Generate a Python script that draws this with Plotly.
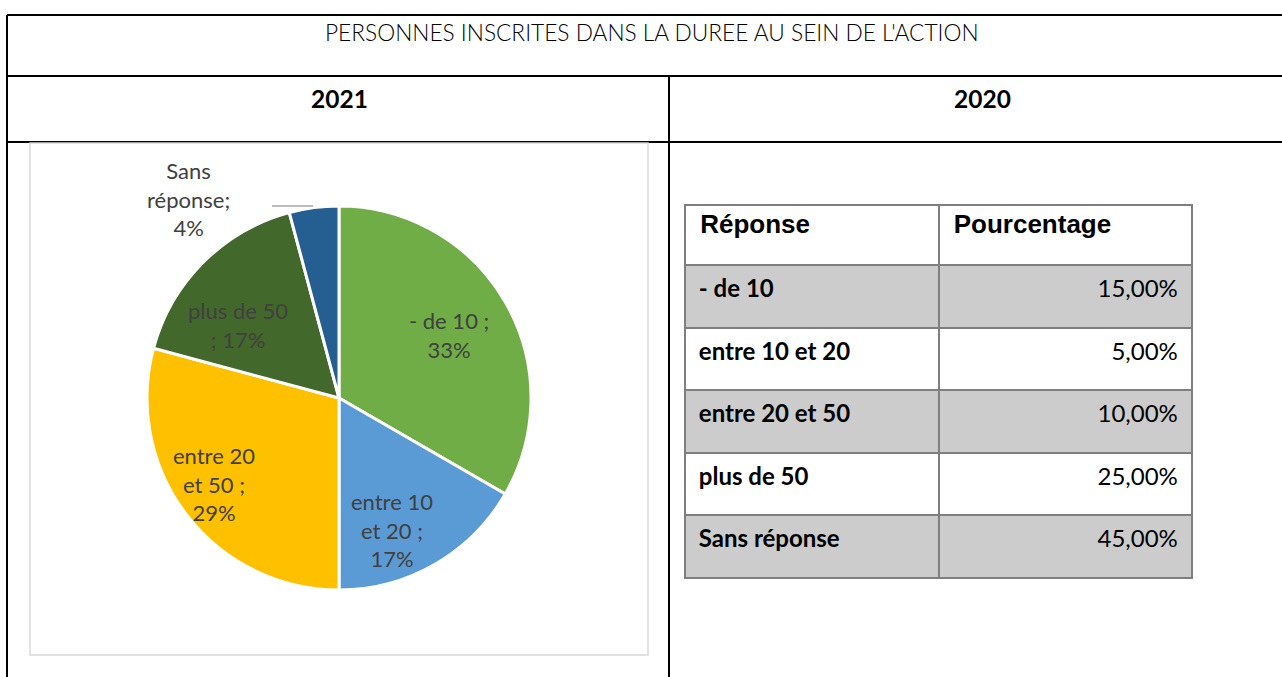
import math
import plotly.graph_objects as go

# ---------------- data ----------------
title_text = "PERSONNES INSCRITES DANS LA DUREE AU SEIN DE L'ACTION"
years = ["2021", "2020"]

# 2021 pie (counts: 33%, 17%, 29%, 17%, 4%)
pie_labels = ["- de 10", "entre 10 et 20", "entre 20 et 50", "plus de 50", "Sans réponse"]
pie_values = [8, 4, 7, 4, 1]
pie_wrapped = ["- de 10 ;<br>", "entre 10<br>et 20 ;<br>", "entre 20<br>et 50 ;<br>",
               "plus de 50<br>; ", "Sans<br>réponse;<br>"]
pie_colors = ["#70AD47", "#5B9BD5", "#FFC000", "#43682B", "#255E91"]

# 2020 table
table_header = ["Réponse", "Pourcentage"]
table_responses = ["- de 10", "entre 10 et 20", "entre 20 et 50", "plus de 50", "Sans réponse"]
table_percent = [15.00, 5.00, 10.00, 25.00, 45.00]

# ---------------- style ----------------
W, H = 1282, 677
CAL = "Lato"
ARIAL = "Liberation Sans"
PIE_CX, PIE_CY, PIE_R = 339, 398, 192          # pie placement in page pixels
label_rfrac = [0.66, 0.74, 0.79, 0.65, 1.30]   # label distance from centre (fraction of radius)
label_nudge = [0, 8, 3, -9, -29.5]             # label angle nudge (degrees)

fig = go.Figure()

# pie chart (2021)
fig.add_trace(go.Pie(
    labels=pie_labels, values=pie_values,
    textinfo="none",
    sort=False, direction="clockwise", rotation=0,
    marker=dict(colors=pie_colors, line=dict(color="white", width=3)),
    domain=dict(x=[(PIE_CX - PIE_R) / W, (PIE_CX + PIE_R) / W],
                y=[(H - PIE_CY - PIE_R) / H, (H - PIE_CY + PIE_R) / H]),
    showlegend=False, hoverinfo="label+percent",
))

# data labels, placed at each slice's mid-angle (Excel-like "best fit")
total = sum(pie_values)
annotations = []
cum = 0
for i, v in enumerate(pie_values):
    mid = (cum + v / 2) / total * 360 + label_nudge[i]
    cum += v
    rr = label_rfrac[i] * PIE_R
    lx = PIE_CX + rr * math.sin(math.radians(mid))
    ly = PIE_CY - rr * math.cos(math.radians(mid))
    pct = round(v / total * 100)
    annotations.append(dict(x=lx, y=ly, text=f"{pie_wrapped[i]}{pct}%", showarrow=False,
                            font=dict(family=CAL, size=22, color="#404040")))

# table (2020)
def fmt(v):
    return "<span>" + f"{v:.2f}".replace(".", ",") + "%\u00a0</span>"

row_fill = ["#CCCCCC" if i % 2 == 0 else "white" for i in range(len(table_responses))]
fig.add_trace(go.Table(
    domain=dict(x=[685 / W, 1193 / W], y=[0, (H - 205) / H]),
    columnwidth=[1, 1],
    header=dict(values=[f"\u00a0{h}" for h in table_header], align="left", height=60,
                fill_color="white", line=dict(color="#7F7F7F", width=2),
                font=dict(family=ARIAL, size=26, color="black", weight="bold")),
    cells=dict(values=[[f"<b>\u00a0{r}</b>" for r in table_responses],
                       [fmt(v) for v in table_percent]],
               align=["left", "right"], height=62.6,
               fill_color=[row_fill, row_fill], line=dict(color="#7F7F7F", width=2),
               font=dict(family=CAL, size=24, color="black")),
))

shapes = [
    # document table borders
    dict(type="line", x0=7, x1=W, y0=15, y1=15),
    dict(type="line", x0=7, x1=7, y0=15, y1=H),
    dict(type="line", x0=7, x1=W, y0=76, y1=76),
    dict(type="line", x0=7, x1=W, y0=142, y1=142),
    dict(type="line", x0=669, x1=669, y0=76, y1=H),
]
for s in shapes:
    s.update(xref="x", yref="y", line=dict(color="black", width=2))
# chart frame
shapes.append(dict(type="rect", xref="x", yref="y", x0=30, x1=648, y0=143, y1=655,
                   line=dict(color="#D9D9D9", width=1.5), fillcolor="rgba(0,0,0,0)"))
# leader line for the small slice label
shapes.append(dict(type="line", xref="x", yref="y", x0=272, x1=313, y0=206, y1=206,
                   line=dict(color="#A6A6A6", width=1.5)))

annotations += [
    dict(x=651.5, y=32, text=title_text, showarrow=False,
         font=dict(family=CAL, size=22.7, color="black", weight=300)),
    dict(x=339, y=98, text=f"<b>{years[0]}</b>", showarrow=False,
         font=dict(family=CAL, size=24.5, color="black")),
    dict(x=982, y=98, text=f"<b>{years[1]}</b>", showarrow=False,
         font=dict(family=CAL, size=24.5, color="black")),
]

fig.update_layout(
    width=W, height=H, margin=dict(l=0, r=0, t=0, b=0),
    paper_bgcolor="white", plot_bgcolor="white",
    xaxis=dict(range=[0, W], visible=False, fixedrange=True, domain=[0, 1]),
    yaxis=dict(range=[H, 0], visible=False, fixedrange=True, domain=[0, 1]),
    shapes=shapes, annotations=annotations,
)

fig.write_html("out.html", config={"displayModeBar": False},
               post_script="document.body.style.margin='0';document.body.style.overflow='hidden';")
